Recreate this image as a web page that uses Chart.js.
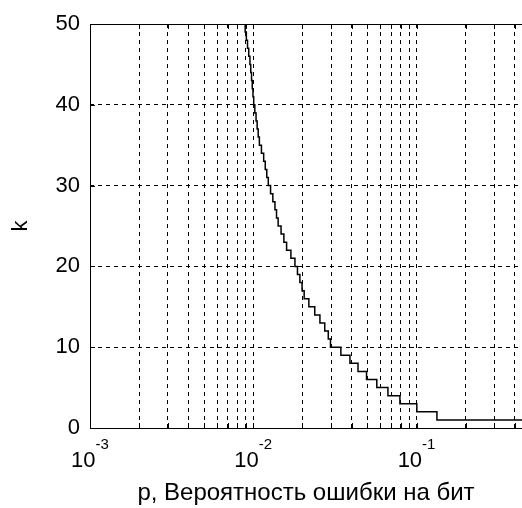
<!DOCTYPE html>
<html>
<head>
<meta charset="utf-8">
<script src="https://cdn.jsdelivr.net/npm/chart.js@4/dist/chart.umd.min.js"></script>
<style>
  html, body { margin: 0; padding: 0; background: #fff; overflow: hidden; }
</style>
</head>
<body>
<canvas id="kChart" width="522" height="508"></canvas>
<script>
// k steps down as p grows; pStart[i] is where k = kValues[i] begins
const kValues = [50, 49, 48, 47, 46, 45, 44, 43, 42, 41,
                 40, 39, 38, 37, 36, 35, 34, 33, 32, 31,
                 30, 29, 28, 27, 26, 25, 24, 23, 22, 21,
                 20, 19, 18, 17, 16, 15, 14, 13, 12, 11,
                 10, 9, 8, 7, 6, 5, 4, 3, 2, 1, 1];
const pStart = [0.00877, 0.00892, 0.00907, 0.00922, 0.00938, 0.00954, 0.00965, 0.00976, 0.00986, 0.00996,
                0.01006, 0.01022, 0.01040, 0.01056, 0.01072, 0.01090, 0.01122, 0.01158, 0.01184, 0.01210,
                0.01236, 0.01276, 0.01318, 0.01358, 0.01388, 0.01420, 0.01480, 0.01540, 0.01600, 0.01700,
                0.01800, 0.01865, 0.01930, 0.01990, 0.02050, 0.02190, 0.02380, 0.02560, 0.02740, 0.02880,
                0.02970, 0.0344, 0.0391, 0.0438, 0.0494, 0.0571, 0.0668, 0.0791, 0.1004, 0.1333, 0.4425];

// axis ticks
const decades = [0.001, 0.01, 0.1];
const decadeExps = ['-3', '-2', '-1'];
const minorMult = [2, 3, 4, 5, 6, 7, 8, 9];
const yTicks = [0, 10, 20, 30, 40, 50];
const xMin = 0.001, xMax = 0.4425;

Chart.defaults.font.family = '"Liberation Sans", Arial, sans-serif';
Chart.defaults.color = '#000';

const FONT = '"Liberation Sans", Arial, sans-serif';

// MATLAB-like box, inward ticks and 10^n labels
const matlabAxes = {
  id: 'matlabAxes',
  afterDraw(chart) {
    const ctx = chart.ctx;
    const a = chart.chartArea;
    const xs = chart.scales.x, ys = chart.scales.y;
    ctx.save();
    ctx.strokeStyle = '#000';
    ctx.lineWidth = 1;
    ctx.setLineDash([]);
    ctx.beginPath();
    ctx.moveTo(a.left + 0.5, a.top + 0.5);
    ctx.lineTo(a.right, a.top + 0.5);
    ctx.moveTo(a.left + 0.5, a.top);
    ctx.lineTo(a.left + 0.5, a.bottom + 0.5);
    ctx.lineTo(a.right, a.bottom + 0.5);
    xs.ticks.forEach(t => {
      const px = Math.round(xs.getPixelForValue(t.value)) + 0.5;
      ctx.moveTo(px, a.bottom);
      ctx.lineTo(px, a.bottom - 5);
      ctx.moveTo(px, a.top);
      ctx.lineTo(px, a.top + 5);
    });
    yTicks.forEach(v => {
      const py = Math.round(ys.getPixelForValue(v)) + 0.5;
      ctx.moveTo(a.left, py);
      ctx.lineTo(a.left + 5, py);
    });
    ctx.stroke();

    ctx.fillStyle = '#000';
    ctx.textBaseline = 'alphabetic';
    decades.forEach((d, i) => {
      const px = xs.getPixelForValue(d);
      ctx.font = '22px ' + FONT;
      const wBase = ctx.measureText('10').width;
      ctx.font = '15px ' + FONT;
      const wExp = ctx.measureText(decadeExps[i]).width;
      const x0 = px - (wBase + wExp) / 2;
      ctx.font = '22px ' + FONT;
      ctx.textAlign = 'left';
      ctx.fillText('10', x0, 467);
      ctx.font = '15px ' + FONT;
      ctx.fillText(decadeExps[i], x0 + wBase, 449);
    });
    ctx.restore();
  }
};

new Chart(document.getElementById('kChart'), {
  type: 'line',
  data: {
    datasets: [{
      data: pStart.map((p, i) => ({ x: p, y: kValues[i] })),
      borderColor: '#000',
      borderWidth: 1.5,
      pointRadius: 0,
      stepped: 'before',
      fill: false
    }]
  },
  options: {
    responsive: false,
    animation: false,
    layout: { padding: { left: 0, right: 0, top: 24, bottom: 0 } },
    plugins: {
      legend: { display: false },
      tooltip: { enabled: false }
    },
    scales: {
      x: {
        type: 'logarithmic',
        min: xMin,
        max: xMax,
        afterBuildTicks(scale) {
          const ticks = [];
          decades.forEach(d => {
            ticks.push({ value: d });
            minorMult.forEach(m => {
              if (d * m < xMax) ticks.push({ value: d * m });
            });
          });
          scale.ticks = ticks;
        },
        afterFit(scale) { scale.height = 80; },
        ticks: { display: false, autoSkip: false },
        grid: { color: '#000', lineWidth: 1, drawTicks: false },
        border: { display: false, dash: [4, 4] },
        title: {
          display: true,
          text: 'p, Вероятность ошибки на бит',
          font: { size: 24 },
          padding: { top: 0, bottom: 0 }
        }
      },
      y: {
        min: 0,
        max: 50,
        afterBuildTicks(scale) {
          scale.ticks = yTicks.map(v => ({ value: v }));
        },
        afterFit(scale) { scale.width = 90; },
        ticks: { font: { size: 22 }, padding: 10 },
        grid: { color: '#000', lineWidth: 1, drawTicks: false },
        border: { display: false, dash: [4, 4] },
        title: {
          display: true,
          text: 'k',
          font: { size: 22 },
          padding: { top: 8, bottom: 0 }
        }
      }
    }
  },
  plugins: [matlabAxes]
});
</script>
</body>
</html>
